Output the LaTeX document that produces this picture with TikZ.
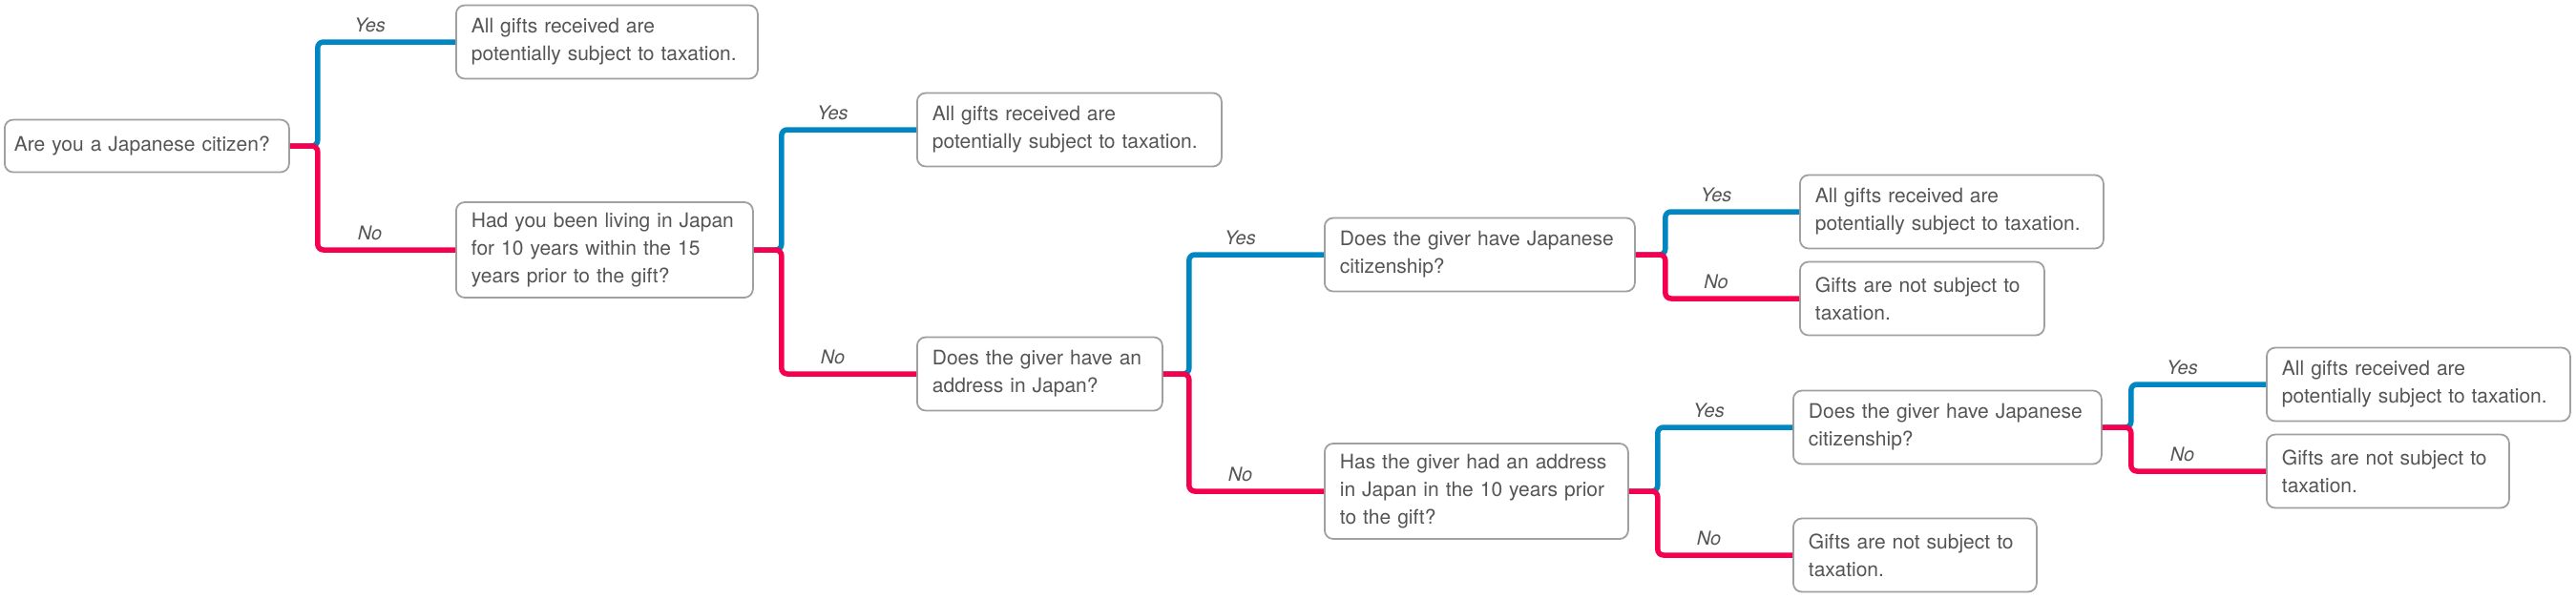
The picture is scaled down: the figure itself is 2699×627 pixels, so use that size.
\documentclass[tikz,border=0pt]{standalone}
\usepackage{fontspec}
\setmainfont{TeX Gyre Heros}
\usetikzlibrary{calc}

\definecolor{yesblue}{HTML}{0086C0}
\definecolor{nored}{HTML}{F5004F}
\definecolor{boxgray}{HTML}{A0A0A0}
\definecolor{textgray}{HTML}{555555}

\tikzset{
  box/.style={draw=boxgray, line width=1.8pt, rounded corners=9pt, fill=white,
    align=left, anchor=west, inner xsep=16pt, text=textgray,
    font=\fontsize{21}{29}\selectfont},
  yesline/.style={draw=yesblue, line width=5.5pt, rounded corners=6pt},
  noline/.style={draw=nored, line width=5.5pt, rounded corners=6pt},
  lbl/.style={text=textgray, font=\fontsize{20}{24}\selectfont\itshape,
    anchor=south, inner sep=2pt, yshift=5pt}
}

\begin{document}
\begin{tikzpicture}[x=1pt, y=-1pt]

  \useasboundingbox (0,0) rectangle (2699,627);

  % questions and answers
  \node[box, text width=278, inner xsep=10pt, minimum height=55] (citizen) at (4,153) {Are you a Japanese citizen?};
  \node[box, text width=284, minimum height=77]  (tax1)     at (477,44)   {All gifts received are\\potentially subject to taxation.};
  \node[box, text width=279, minimum height=100] (lived)    at (477,262)  {Had you been living in Japan\\for 10 years within the 15\\years prior to the gift?};
  \node[box, text width=287, minimum height=77]  (tax2)     at (960,136)  {All gifts received are\\potentially subject to taxation.};
  \node[box, text width=225, minimum height=77]  (address)  at (960,392)  {Does the giver have an\\address in Japan?};
  \node[box, text width=293, minimum height=77]  (giverA)   at (1387,267) {Does the giver have Japanese\\citizenship?};
  \node[box, text width=286, minimum height=100] (hadaddr)  at (1387,515) {Has the giver had an address\\in Japan in the 10 years prior\\to the gift?};
  \node[box, text width=286, minimum height=77]  (tax3)     at (1885,222) {All gifts received are\\potentially subject to taxation.};
  \node[box, text width=224, minimum height=77]  (free3)    at (1885,313) {Gifts are not subject to\\taxation.};
  \node[box, text width=291, minimum height=77]  (giverB)   at (1878,448) {Does the giver have Japanese\\citizenship?};
  \node[box, text width=223, minimum height=77]  (free5)    at (1878,582) {Gifts are not subject to\\taxation.};
  \node[box, text width=286, minimum height=77]  (tax6)     at (2374,403) {All gifts received are\\potentially subject to taxation.};
  \node[box, text width=222, minimum height=77]  (free6)    at (2374,494) {Gifts are not subject to\\taxation.};

  % branch points
  \coordinate (j1) at ($(citizen.east)+(29,0)$);
  \coordinate (j2) at ($(lived.east)+(29,0)$);
  \coordinate (j3) at ($(address.east)+(27,0)$);
  \coordinate (j4) at ($(giverA.east)+(31,0)$);
  \coordinate (j5) at ($(hadaddr.east)+(30,0)$);
  \coordinate (j6) at ($(giverB.east)+(30,0)$);

  % yes / no branches
  \draw[yesline] (citizen.east) -- (j1) |- node[lbl, pos=0.69] {Yes} (tax1.west);
  \draw[noline]  (citizen.east) -- (j1) |- node[lbl, pos=0.69] {No}  (lived.west);

  \draw[yesline] (lived.east) -- (j2) |- node[lbl, pos=0.69] {Yes} (tax2.west);
  \draw[noline]  (lived.east) -- (j2) |- node[lbl, pos=0.69] {No}  (address.west);

  \draw[yesline] (address.east) -- (j3) |- node[lbl, pos=0.69] {Yes} (giverA.west);
  \draw[noline]  (address.east) -- (j3) |- node[lbl, pos=0.69] {No}  (hadaddr.west);

  \draw[yesline] (giverA.east) -- (j4) |- node[lbl, pos=0.69] {Yes} (tax3.west);
  \draw[noline]  (giverA.east) -- (j4) |- node[lbl, pos=0.69] {No}  (free3.west);

  \draw[yesline] (hadaddr.east) -- (j5) |- node[lbl, pos=0.69] {Yes} (giverB.west);
  \draw[noline]  (hadaddr.east) -- (j5) |- node[lbl, pos=0.69] {No}  (free5.west);

  \draw[yesline] (giverB.east) -- (j6) |- node[lbl, pos=0.69] {Yes} (tax6.west);
  \draw[noline]  (giverB.east) -- (j6) |- node[lbl, pos=0.69] {No}  (free6.west);

\end{tikzpicture}
\end{document}
